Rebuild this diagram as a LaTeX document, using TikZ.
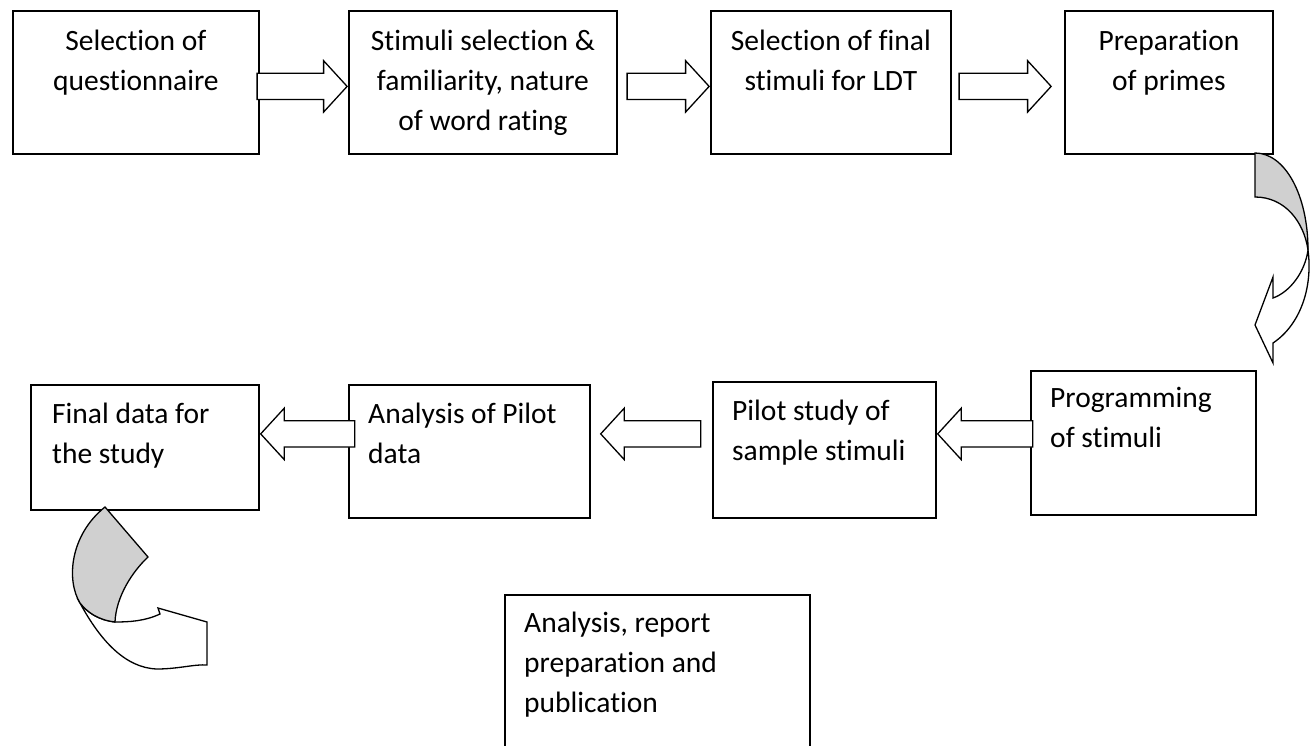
\documentclass[tikz,border=0pt]{standalone}
\usepackage{fontspec}
\setmainfont{Carlito}[Ligatures=NoCommon]
\usetikzlibrary{shapes.arrows, positioning}

\begin{document}
\begin{tikzpicture}[x=1pt, y=-1pt]
    \tikzstyle{stage} = [rectangle, draw, line width=1.8pt, inner sep=0pt, anchor=north west]
    \tikzstyle{caption} = [inner sep=0pt, font=\fontsize{29.5}{40}\selectfont]
    \tikzstyle{flow} = [single arrow, draw, line width=1.3pt, fill=white,
                        inner xsep=0pt, inner ysep=12.5pt, single arrow head extend=12.5pt,
                        single arrow tip angle=95, single arrow head indent=0pt]
    \tikzstyle{fold} = [draw, line width=1.3pt, line join=miter]

    \useasboundingbox (0,0) rectangle (1311,746);
    \clip (0,0) rectangle (1311,746);

    % top row
    \node [stage, minimum width=246pt, minimum height=143pt] (quest) at (12,10) {};
    \node [stage, minimum width=268pt, minimum height=143pt] (stim) at (348,10) {};
    \node [stage, minimum width=240pt, minimum height=143pt] (final) at (710,10) {};
    \node [stage, minimum width=208pt, minimum height=143pt] (primes) at (1064,10) {};

    \node [caption, align=center, below=12pt of quest.north] (questtxt) {\strut Selection of\\questionnaire};
    \node [caption, align=center, below=12pt of stim.north] (stimtxt) {\strut Stimuli selection \&\\familiarity, nature\\of word rating};
    \node [caption, align=center, below=12pt of final.north] (finaltxt) {\strut Selection of final\\stimuli for LDT};
    \node [caption, align=center, below=12pt of primes.north] (primestxt) {\strut Preparation\\of primes};

    % bottom row
    \node [stage, minimum width=228pt, minimum height=125pt] (fdata) at (30,384) {};
    \node [stage, minimum width=241pt, minimum height=133pt] (pilotan) at (348,384) {};
    \node [stage, minimum width=223pt, minimum height=136pt] (pilot) at (712,381) {};
    \node [stage, minimum width=225pt, minimum height=144pt] (prog) at (1030,370) {};
    \node [stage, minimum width=305pt, minimum height=180pt] (report) at (504,594) {};

    \node [caption, align=left, below right=11pt and 22pt of fdata.north west] (fdatatxt) {\strut Final data for\\the study};
    \node [caption, align=left, below right=11pt and 20pt of pilotan.north west] (pilotantxt) {\strut Analysis of Pilot\\data};
    \node [caption, align=left, below right=11pt and 20pt of pilot.north west] (pilottxt) {\strut Pilot study of\\sample stimuli};
    \node [caption, align=left, below right=9pt and 20pt of prog.north west] (progtxt) {\strut Programming\\of stimuli};
    \node [caption, align=left, below right=10pt and 20pt of report.north west] (reporttxt) {\strut Analysis, report\\preparation and\\publication};

    % block arrows
    \node [flow, minimum height=90pt, anchor=tip] (a1) at ([yshift=-4pt]stim.west) {};
    \node [flow, minimum height=82pt, anchor=tip] (a2) at ([yshift=-4pt]final.west) {};
    \node [flow, minimum height=92pt, anchor=tip] (a3) at ([xshift=-12pt, yshift=-4pt]primes.west) {};

    \node [flow, shape border rotate=180, minimum height=94pt, anchor=tip] (a4) at ([yshift=13.5pt]fdata.east) {};
    \node [flow, shape border rotate=180, minimum height=100pt, anchor=tip] (a5) at ([xshift=9pt, yshift=17.5pt]pilotan.east) {};
    \node [flow, shape border rotate=180, minimum height=95pt, anchor=tip] (a6) at ([yshift=16pt]pilot.east) {};

    % curved arrow from primes down to programming
    \draw[fold, fill=white] (1308,250) .. controls (1313,288) and (1300,325) .. (1273,343)
        -- (1273,363) -- (1255,325) -- (1273,277) -- (1273,298)
        .. controls (1290,292) and (1305,272) .. (1308,250) -- cycle;
    \draw[fold, fill=gray!37] (1255,153) .. controls (1285,153) and (1308,195) .. (1308,250)
        .. controls (1304,222) and (1285,197) .. (1255,197) -- cycle;

    % curved arrow below final data
    \draw[fold, fill=white] (80,603) .. controls (100,640) and (125,668) .. (157,669)
        .. controls (178,669) and (195,664) .. (207,665) -- (207,622) -- (158,608) -- (160,614)
        .. controls (145,621) and (130,622) .. (115,622)
        .. controls (98,620) and (87,612) .. (80,603) -- cycle;
    \draw[fold, fill=gray!37] (105,507) -- (148,557) .. controls (132,572) and (116,597) .. (115,622)
        .. controls (98,620) and (87,612) .. (80,603)
        .. controls (66,580) and (70,535) .. (105,507) -- cycle;
\end{tikzpicture}
\end{document}
